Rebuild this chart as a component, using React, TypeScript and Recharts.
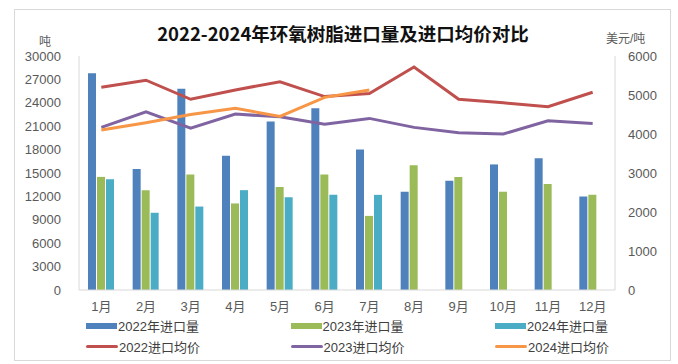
import { ComposedChart, Bar, Line, XAxis, YAxis, Legend } from 'recharts'

// months and series
const months = ['1月', '2月', '3月', '4月', '5月', '6月', '7月', '8月', '9月', '10月', '11月', '12月']
const import2022 = [27800, 15500, 25800, 17200, 21600, 23300, 18000, 12600, 14000, 16100, 16900, 12000]
const import2023 = [14500, 12800, 14800, 11100, 13200, 14800, 9500, 16000, 14500, 12600, 13600, 12200]
const import2024 = [14200, 9900, 10700, 12800, 11900, 12200, 12200, null, null, null, null, null]
const price2022 = [5200, 5380, 4890, 5130, 5340, 4960, 5040, 5720, 4890, 4800, 4700, 5070]
const price2023 = [4170, 4570, 4150, 4510, 4440, 4250, 4400, 4170, 4030, 4000, 4340, 4270]
const price2024 = [4100, 4290, 4500, 4660, 4450, 4940, 5130, null, null, null, null, null]

const leftTicks = [0, 3000, 6000, 9000, 12000, 15000, 18000, 21000, 24000, 27000, 30000]
const rightTicks = [0, 1000, 2000, 3000, 4000, 5000, 6000]

const series = [
  { key: 'i2022', name: '2022年进口量', color: '#4F81BD', kind: 'bar' },
  { key: 'i2023', name: '2023年进口量', color: '#9BBB59', kind: 'bar' },
  { key: 'i2024', name: '2024年进口量', color: '#4BACC6', kind: 'bar' },
  { key: 'p2022', name: '2022进口均价', color: '#C0504D', kind: 'line' },
  { key: 'p2023', name: '2023进口均价', color: '#8064A2', kind: 'line' },
  { key: 'p2024', name: '2024进口均价', color: '#F79646', kind: 'line' },
]

const data = months.map((m, i) => ({
  month: m,
  i2022: import2022[i],
  i2023: import2023[i],
  i2024: import2024[i],
  p2022: price2022[i],
  p2023: price2023[i],
  p2024: price2024[i],
}))

const FONT = '"Liberation Sans", "Noto Sans CJK SC", sans-serif'
const tickStyle = { fontSize: 13, fill: '#595959', fontFamily: FONT }

function LegendBox() {
  return (
    <div style={{ height: 42, position: 'relative', fontFamily: FONT, fontSize: 13, color: '#404040' }}>
      {series.map((s, i) => {
        const col = i % 3
        const row = Math.floor(i / 3)
        return (
          <div
            key={s.key}
            style={{
              position: 'absolute',
              left: 86 + col * 204.5,
              top: row * 21,
              height: 21,
              display: 'flex',
              alignItems: 'center',
              whiteSpace: 'nowrap',
            }}
          >
            {s.kind === 'bar' ? (
              <span style={{ display: 'inline-block', width: 31, height: 6, background: s.color }} />
            ) : (
              <span style={{ display: 'inline-block', width: 32, height: 3, borderRadius: 2, background: s.color }} />
            )}
            <span style={{ marginLeft: 1 }}>{s.name}</span>
          </div>
        )
      })}
    </div>
  )
}

export default function App() {
  return (
    <div style={{ position: 'absolute', left: 0, top: 0, width: 678, height: 364, background: '#fff' }}>
      <div
        style={{
          position: 'absolute',
          left: 14,
          top: 9,
          width: 655,
          height: 350,
          border: '1px solid #d9d9d9',
        }}
      />
      <div
        style={{
          position: 'absolute',
          left: 0,
          width: 686,
          top: 21,
          textAlign: 'center',
          fontFamily: '"Noto Sans CJK SC", sans-serif',
          fontWeight: 700,
          fontSize: 18.5,
          color: '#111',
          lineHeight: '24px',
        }}
      >
        2022-2024年环氧树脂进口量及进口均价对比
      </div>
      <div style={{ position: 'absolute', left: 39, top: 32, fontSize: 12, color: '#595959', fontFamily: FONT }}>吨</div>
      <div style={{ position: 'absolute', left: 606, top: 29, fontSize: 12, color: '#595959', fontFamily: FONT }}>美元/吨</div>

      <ComposedChart
        width={678}
        height={364}
        data={data}
        margin={{ top: 56, right: 0, bottom: 7, left: 0 }}
        barSize={8}
        barGap={1}
        style={{ position: 'absolute', left: 0, top: 0 }}
      >
        <XAxis
          dataKey="month"
          height={25}
          tickSize={0}
          tickMargin={12}
          tickLine={false}
          axisLine={{ stroke: '#d9d9d9' }}
          tick={tickStyle}
          interval={0}
        />
        <YAxis
          yAxisId="left"
          width={79}
          domain={[0, 30000]}
          ticks={leftTicks}
          tickSize={0}
          tickMargin={18}
          tickLine={false}
          axisLine={{ stroke: '#d9d9d9' }}
          tick={tickStyle}
          interval={0}
        />
        <YAxis
          yAxisId="right"
          orientation="right"
          width={63}
          domain={[0, 6000]}
          ticks={rightTicks}
          tickSize={0}
          tickMargin={13}
          tickLine={false}
          axisLine={{ stroke: '#d9d9d9' }}
          tick={tickStyle}
          interval={0}
        />
        <Legend
          verticalAlign="bottom"
          content={() => <LegendBox />}
          wrapperStyle={{ left: 0, width: 678, bottom: 7 }}
        />
        {series
          .filter((s) => s.kind === 'bar')
          .map((s) => (
            <Bar key={s.key} yAxisId="left" dataKey={s.key} name={s.name} fill={s.color} isAnimationActive={false} />
          ))}
        {series
          .filter((s) => s.kind === 'line')
          .map((s) => (
            <Line
              key={s.key}
              yAxisId="right"
              type="linear"
              dataKey={s.key}
              name={s.name}
              stroke={s.color}
              strokeWidth={3}
              dot={false}
              activeDot={false}
              isAnimationActive={false}
            />
          ))}
      </ComposedChart>
    </div>
  )
}
